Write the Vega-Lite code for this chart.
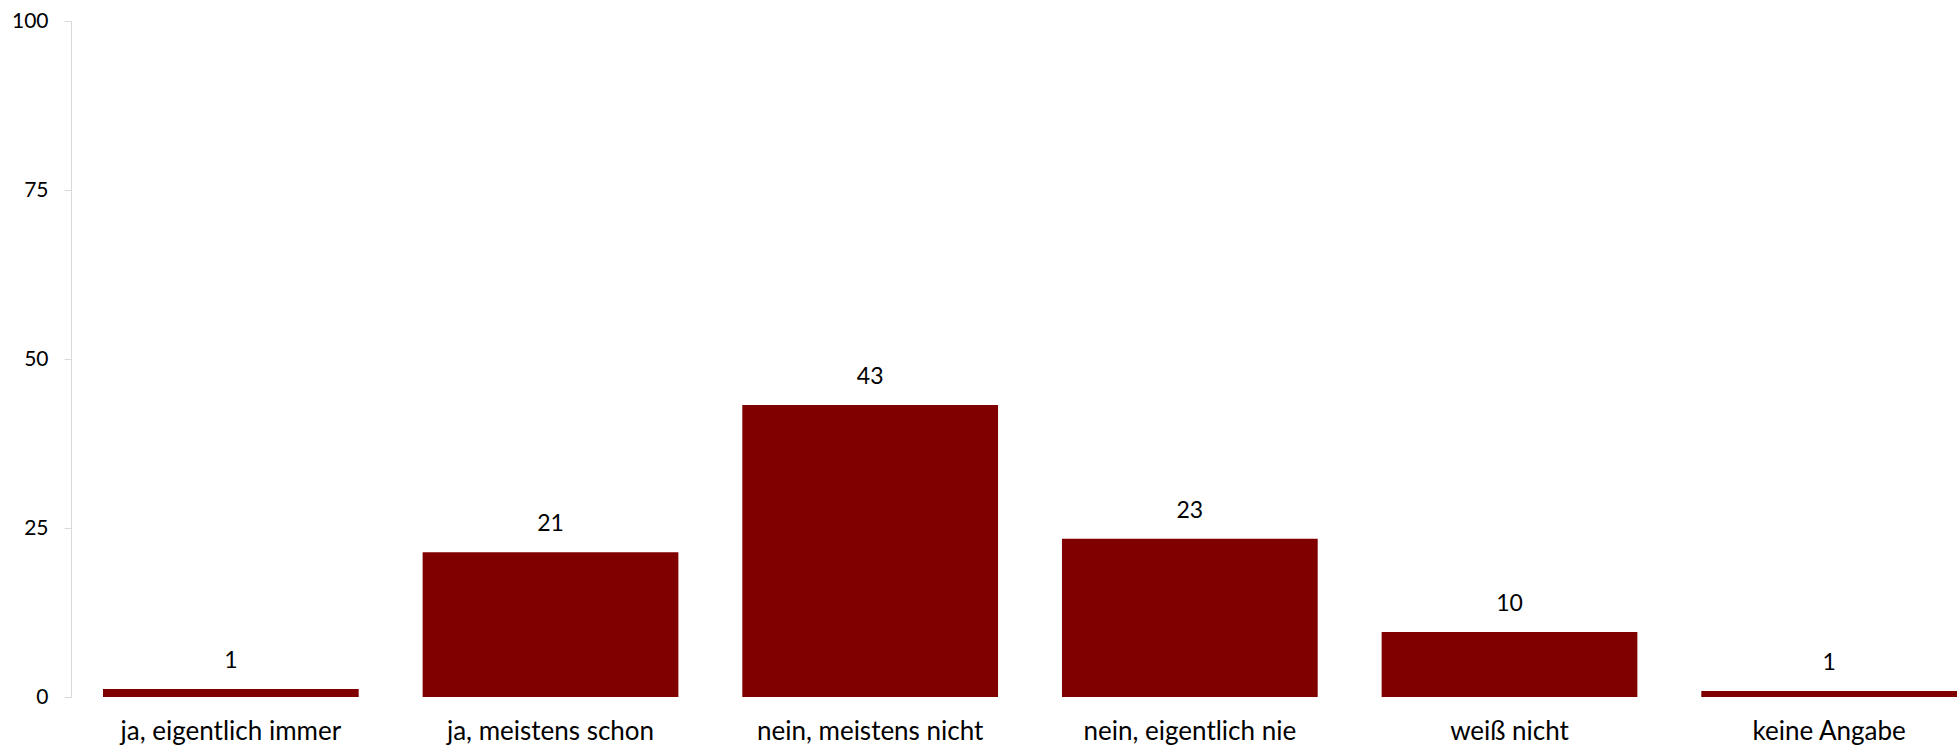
{
  "$schema": "https://vega.github.io/schema/vega-lite/v6.json",
  "autosize": {"type": "none"},
  "padding": {"left": 71, "top": 21, "right": 0, "bottom": 53},
  "width": 1918,
  "height": 676,
  "background": "white",
  "config": {"view": {"stroke": null}, "font": "Lato"},
  "data": {"values": [
    {"antwort": "ja, eigentlich immer", "prozent": 1.2},
    {"antwort": "ja, meistens schon", "prozent": 21.4},
    {"antwort": "nein, meistens nicht", "prozent": 43.2},
    {"antwort": "nein, eigentlich nie", "prozent": 23.4},
    {"antwort": "weiß nicht", "prozent": 9.6},
    {"antwort": "keine Angabe", "prozent": 0.9}
  ]},
  "encoding": {
    "x": {"field": "antwort", "type": "nominal", "sort": null,
      "scale": {"paddingInner": 0.2, "paddingOuter": 0.1},
      "axis": {"title": null, "domain": false, "ticks": false, "labelAngle": 0, "labelFont": "Lato", "labelFontSize": 26, "labelLimit": 0, "labelColor": "#000000", "labelPadding": 21, "labelBaseline": "top"}},
    "y": {"field": "prozent", "type": "quantitative",
      "scale": {"domain": [0, 100], "nice": false},
      "axis": {"title": null, "values": [0, 25, 50, 75, 100], "grid": false, "domainColor": "#d9d9d9", "domainWidth": 1, "tickColor": "#d9d9d9", "tickSize": 7, "labelFont": "Lato", "labelFontSize": 21, "labelColor": "#000000", "labelPadding": 16}}
  },
  "layer": [
    {"mark": {"type": "bar", "color": "#800000"}},
    {"mark": {"type": "text", "baseline": "bottom", "dy": -16, "font": "Lato", "fontSize": 23, "color": "#000000"},
     "encoding": {"text": {"field": "prozent", "type": "quantitative", "format": ".0f"}}}
  ]
}
